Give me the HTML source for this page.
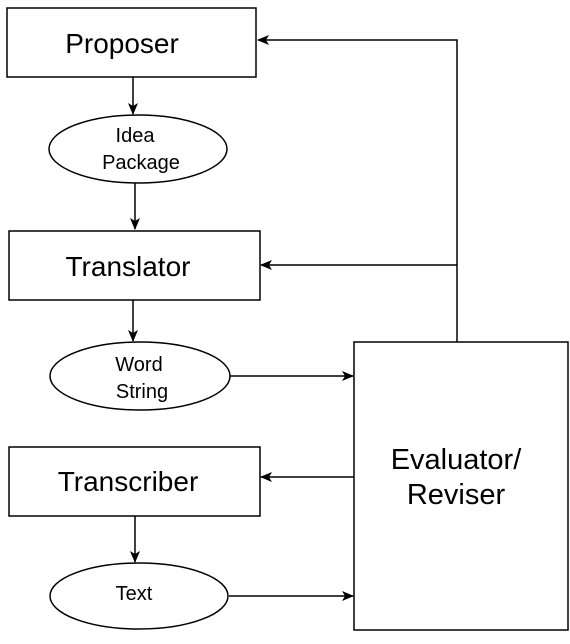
<!DOCTYPE html>
<html><head><meta charset="utf-8"><style>
html,body{margin:0;padding:0;background:#fff}
svg{display:block}
text{font-family:"Liberation Sans",Arial,sans-serif;fill:#000;text-anchor:middle}
</style></head><body>
<svg width="570" height="644" viewBox="0 0 570 644" xmlns="http://www.w3.org/2000/svg">
<defs><marker id="a" markerWidth="12" markerHeight="10" refX="11" refY="5" orient="auto" markerUnits="userSpaceOnUse"><path d="M0,0 L12,5 L0,10 L3,5 Z" fill="#000"/></marker></defs>
<g fill="none" stroke="#000" stroke-width="1.5">
<rect x="7" y="8" width="249" height="69"/>
<rect x="9" y="231" width="251" height="69"/>
<rect x="9" y="447" width="251" height="69"/>
<rect x="354" y="342" width="214" height="288"/>
<ellipse cx="138" cy="149" rx="89" ry="34"/>
<ellipse cx="140" cy="376" rx="90" ry="34"/>
<ellipse cx="139" cy="596" rx="89" ry="33"/>
<path d="M457 342 V40 H258" marker-end="url(#a)"/>
<path d="M457 265 H261" marker-end="url(#a)"/>
<path d="M354 477 H261" marker-end="url(#a)"/>
<path d="M133 77 V114" marker-end="url(#a)"/>
<path d="M135 183 V229" marker-end="url(#a)"/>
<path d="M133 300 V341" marker-end="url(#a)"/>
<path d="M135 516 V562" marker-end="url(#a)"/>
<path d="M230 376 H353" marker-end="url(#a)"/>
<path d="M229 596 H353" marker-end="url(#a)"/>
</g>
<text x="122" y="53" font-size="28">Proposer</text>
<text x="128" y="276" font-size="28">Translator</text>
<text x="128" y="491" font-size="28">Transcriber</text>
<text x="456" y="469" font-size="29">Evaluator/</text>
<text x="456" y="504" font-size="29">Reviser</text>
<text x="135" y="142" font-size="20">Idea</text>
<text x="141" y="169" font-size="20">Package</text>
<text x="139" y="371" font-size="20">Word</text>
<text x="142" y="398" font-size="20">String</text>
<text x="134" y="600" font-size="20">Text</text>
</svg>
</body></html>
